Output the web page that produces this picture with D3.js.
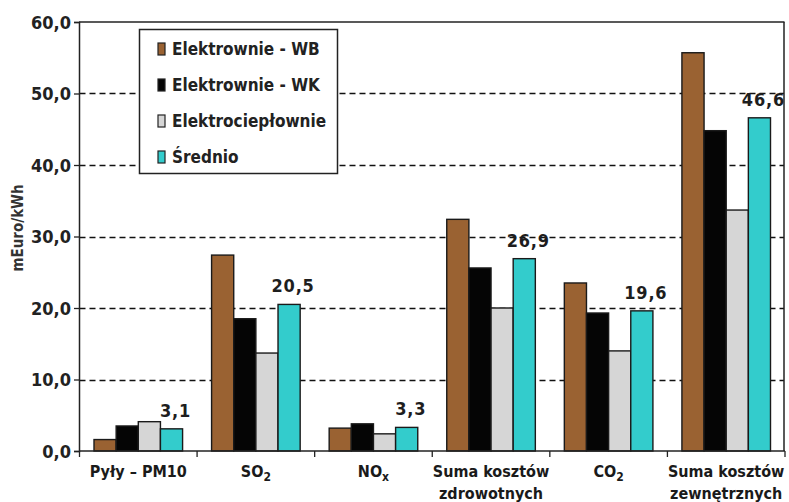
<!DOCTYPE html>
<html><head><meta charset="utf-8">
<script src="https://cdn.jsdelivr.net/npm/d3@7"></script>
<style>
html,body{margin:0;padding:0;background:#fff;}
svg{display:block;}
</style></head>
<body>
<svg id="chart" width="789" height="502"></svg>
<script>
const categories = ["Pyły – PM10", "SO2", "NOx", "Suma kosztów zdrowotnych", "CO2", "Suma kosztów zewnętrznych"];
const series = ["Elektrownie - WB", "Elektrownie - WK", "Elektrociepłownie", "Średnio"];
const valuesWB = [1.6, 27.4, 3.2, 32.4, 23.5, 55.7];
const valuesWK = [3.5, 18.5, 3.8, 25.6, 19.3, 44.8];
const valuesEC = [4.1, 13.7, 2.4, 20.0, 14.0, 33.7];
const valuesAvg = [3.1, 20.5, 3.3, 26.9, 19.6, 46.6];
const avgLabels = ["3,1", "20,5", "3,3", "26,9", "19,6", "46,6"];
const yTicks = [0, 10, 20, 30, 40, 50, 60];
const colors = ["#9a6232", "#050505", "#d6d6d6", "#33cccc"];
const yTitle = "mEuro/kWh";

const seriesValues = [valuesWB, valuesWK, valuesEC, valuesAvg];
const svg = d3.select("#chart");
const FONT = '"Liberation Sans Narrow","DejaVu Sans Condensed","Roboto Condensed","Liberation Sans",sans-serif';

const x0 = d3.scaleBand().domain(categories).range([79.5, 785]).padding(0);
const bw = x0.bandwidth();
const x1 = d3.scaleBand().domain(series).range([14.5, bw - 14.5]).padding(0);
const y = d3.scaleLinear().domain([0, 60]).range([451, 22]);

// gridlines
svg.append("g").selectAll("line").data(yTicks.filter(t => t > 0 && t < 60)).join("line")
  .attr("x1", 79.5).attr("x2", 784).attr("y1", d => Math.round(y(d)) + 0.5).attr("y2", d => Math.round(y(d)) + 0.5)
  .attr("stroke", "#111").attr("stroke-width", 1.3).attr("stroke-dasharray", "6,4");

// frame top & right
svg.append("line").attr("x1", 79).attr("x2", 784.5).attr("y1", y(60)).attr("y2", y(60)).attr("stroke", "#222").attr("stroke-width", 1.5);
svg.append("line").attr("x1", 784).attr("x2", 784).attr("y1", y(60)).attr("y2", y(0)).attr("stroke", "#222").attr("stroke-width", 1.5);

// bars
const groups = svg.append("g").selectAll("g").data(categories).join("g")
  .attr("transform", d => `translate(${x0(d)},0)`);
groups.selectAll("rect").data((c, i) => series.map((s, k) => ({s, k, v: seriesValues[k][i]}))).join("rect")
  .attr("x", d => x1(d.s)).attr("width", x1.bandwidth())
  .attr("y", d => y(d.v)).attr("height", d => y(0) - y(d.v))
  .attr("fill", d => colors[d.k]).attr("stroke", "#1a1a1a").attr("stroke-width", 1.4);

// value labels on average
svg.append("g").selectAll("text").data(categories).join("text")
  .attr("x", (c) => x0(c) + x1(series[3]) + x1.bandwidth() / 2 + 4)
  .attr("y", (c, i) => y(valuesAvg[i]) - 12)
  .attr("text-anchor", "middle")
  .attr("font-family", FONT).attr("font-weight", "bold").attr("font-size", 18)
  .attr("letter-spacing", 0.8)
  .attr("fill", "#1e1e1e")
  .text((c, i) => avgLabels[i]);

// y axis
const yAxis = svg.append("g").attr("transform", "translate(79,0)")
  .call(d3.axisLeft(y).tickValues(yTicks).tickSize(5).tickPadding(3)
    .tickFormat(d => d.toFixed(1).replace(".", ",")));
yAxis.select(".domain").attr("stroke", "#222").attr("stroke-width", 1.5);
yAxis.selectAll(".tick line").attr("stroke", "#222").attr("stroke-width", 1.3);
yAxis.selectAll("text").attr("font-family", FONT).attr("font-weight", "bold").attr("font-size", 18).attr("fill", "#222").attr("dy", "0.35em");

// x axis baseline and ticks at boundaries
svg.append("line").attr("x1", 79).attr("x2", 785).attr("y1", y(0)).attr("y2", y(0)).attr("stroke", "#222").attr("stroke-width", 1.5);
const bounds = categories.map(c => x0(c)).concat([x0(categories[categories.length - 1]) + bw]);
svg.append("g").selectAll("line").data(bounds).join("line")
  .attr("x1", d => d).attr("x2", d => d).attr("y1", y(0)).attr("y2", y(0) + 6)
  .attr("stroke", "#222").attr("stroke-width", 1.3);

// category labels
const subs = {"SO2": ["SO", "2"], "NOx": ["NO", "x"], "CO2": ["CO", "2"]};
const catLines = {"Suma kosztów zdrowotnych": ["Suma kosztów", "zdrowotnych"], "Suma kosztów zewnętrznych": ["Suma kosztów", "zewnętrznych"]};
categories.forEach(c => {
  const cx = x0(c) + bw / 2;
  const t = svg.append("text").attr("x", cx).attr("y", 477).attr("text-anchor", "middle")
    .attr("font-family", FONT).attr("font-weight", "bold").attr("font-size", 16).attr("fill", "#1a1a1a");
  if (subs[c]) {
    t.append("tspan").text(subs[c][0]);
    t.append("tspan").attr("dy", 4).attr("font-size", 12).text(subs[c][1]);
  } else if (catLines[c]) {
    catLines[c].forEach((l, i) => t.append("tspan").attr("x", cx).attr("dy", i ? 22 : 0).text(l));
  } else {
    t.text(c);
  }
});

// y title
svg.append("text").attr("transform", "translate(23,228) rotate(-90)").attr("text-anchor", "middle")
  .attr("font-family", FONT).attr("font-weight", "bold").attr("font-size", 15).attr("fill", "#333").text(yTitle);

// legend
const lg = svg.append("g");
lg.append("rect").attr("x", 139.5).attr("y", 29.5).attr("width", 198).attr("height", 144)
  .attr("fill", "#fff").attr("stroke", "#222").attr("stroke-width", 1.5);
series.forEach((s, i) => {
  const yy = 55 + i * 36;
  lg.append("rect").attr("x", 158).attr("y", yy - 12).attr("width", 7).attr("height", 12)
    .attr("fill", colors[i]).attr("stroke", "#222").attr("stroke-width", 1.2);
  lg.append("text").attr("x", 172).attr("y", yy).attr("font-family", FONT).attr("font-weight", "bold")
    .attr("font-size", 17).attr("fill", "#222").text(s);
});
</script>
</body></html>
